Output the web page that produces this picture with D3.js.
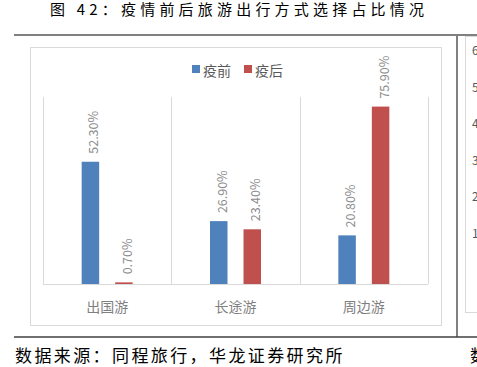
<!DOCTYPE html>
<meta charset="utf-8">
<script src="https://d3js.org/d3.v7.min.js"></script>
<style>
  body { margin: 0; background: #fff; }
  text { font-family: "Noto Sans CJK SC", "DejaVu Sans", sans-serif; }
</style>
<div id="chart"></div>
<script>

// data
var categories = ["出国游", "长途游", "周边游"];
var seriesNames = ["疫前", "疫后"];
var before = [52.3, 26.9, 20.8];
var after = [0.7, 23.4, 75.9];
var sideTicks = [1, 2, 3, 4, 5, 6];   // cut-off panel on the right

var colors = ["#4F81BD", "#C0504D"];

var svg = d3.select("#chart")
  .append("svg")
    .attr("width", 477)
    .attr("height", 367);

// title
svg.append("text")
  .attr("x", 50)
  .attr("y", 15)
  .attr("font-size", 15)
  .attr("letter-spacing", 4.2)
  .attr("fill", "#000")
  .text("图 42：疫情前后旅游出行方式选择占比情况");

// page rules
svg.append("line").attr("x1", 14).attr("x2", 477).attr("y1", 35).attr("y2", 35)
  .attr("stroke", "#808080").attr("stroke-width", 2);
svg.append("line").attr("x1", 457).attr("x2", 457).attr("y1", 35).attr("y2", 337)
  .attr("stroke", "#808080").attr("stroke-width", 2);
svg.append("line").attr("x1", 14).attr("x2", 477).attr("y1", 337).attr("y2", 337)
  .attr("stroke", "#404040").attr("stroke-width", 1.5);

// chart frame
svg.append("rect")
  .attr("x", 30.5).attr("y", 47.5).attr("width", 411).attr("height", 278)
  .attr("fill", "none").attr("stroke", "#d9d9d9");

// plot area
var pLeft = 43, pRight = 428, pTop = 97, pBottom = 284;

var x0 = d3.scaleBand()
  .domain(categories)
  .range([pLeft, pRight]);

var bw = x0.bandwidth();
var x1 = d3.scaleBand()
  .domain(seriesNames)
  .range([bw / 2 - 25.5, bw / 2 + 25.5])
  .paddingInner(0.478);

var y = d3.scaleLinear()
  .domain([0, 80])
  .range([pBottom, pTop]);

// vertical gridlines between categories
var edges = categories.map(function(c) { return x0(c); }).concat([pRight]);
svg.selectAll(".vgrid")
  .data(edges)
  .enter()
  .append("line")
    .attr("class", "vgrid")
    .attr("x1", function(d) { return Math.round(d) + 0.5; })
    .attr("x2", function(d) { return Math.round(d) + 0.5; })
    .attr("y1", pTop)
    .attr("y2", pBottom)
    .attr("stroke", "#d9d9d9");

// x axis line + labels
svg.append("line")
  .attr("x1", pLeft).attr("x2", pRight)
  .attr("y1", pBottom + 0.5).attr("y2", pBottom + 0.5)
  .attr("stroke", "#d9d9d9");

svg.selectAll(".cat")
  .data(categories)
  .enter()
  .append("text")
    .attr("class", "cat")
    .attr("x", function(d) { return x0(d) + bw / 2; })
    .attr("y", 312)
    .attr("text-anchor", "middle")
    .attr("font-size", 14)
    .attr("fill", "#7f7f7f")
    .text(function(d) { return d; });

// bars
var rows = [];
categories.forEach(function(c, i) {
  rows.push({cat: c, s: seriesNames[0], v: before[i], k: 0});
  rows.push({cat: c, s: seriesNames[1], v: after[i], k: 1});
});

svg.selectAll(".bar")
  .data(rows)
  .enter()
  .append("rect")
    .attr("class", "bar")
    .attr("x", function(d) { return x0(d.cat) + x1(d.s); })
    .attr("width", x1.bandwidth())
    .attr("y", function(d) { return y(d.v); })
    .attr("height", function(d) { return pBottom - y(d.v); })
    .attr("fill", function(d) { return colors[d.k]; });

// value labels, rotated
svg.selectAll(".lbl")
  .data(rows)
  .enter()
  .append("text")
    .attr("class", "lbl")
    .attr("transform", function(d) {
      var cx = x0(d.cat) + x1(d.s) + x1.bandwidth() / 2 + 8;
      return "translate(" + cx + "," + (y(d.v) - 8) + ") rotate(-90)";
    })
    .attr("font-family", "DejaVu Sans")
    .attr("font-size", 12.5)
    .attr("fill", "#8c8c8c")
    .text(function(d) { return d.v.toFixed(2) + "%"; });

// legend
var legend = svg.selectAll(".leg")
  .data(seriesNames)
  .enter()
  .append("g")
    .attr("class", "leg")
    .attr("transform", function(d, i) { return "translate(" + (192 + i * 52) + ",0)"; });
legend.append("rect")
  .attr("x", 0).attr("y", 65).attr("width", 8).attr("height", 8)
  .attr("fill", function(d, i) { return colors[i]; });
legend.append("text")
  .attr("x", 11).attr("y", 76)
  .attr("font-size", 14)
  .attr("fill", "#595959")
  .text(function(d) { return d; });

// neighbouring panel, cut off at the right edge
svg.append("rect")
  .attr("x", 465.5).attr("y", 36.5).attr("width", 40).attr("height", 276)
  .attr("fill", "none").attr("stroke", "#d9d9d9");

var ys = d3.scaleLinear().domain([1, 6]).range([233, 50]);
svg.selectAll(".stick")
  .data(sideTicks)
  .enter()
  .append("text")
    .attr("class", "stick")
    .attr("x", 472)
    .attr("y", function(d) { return ys(d) + 5; })
    .attr("font-family", "DejaVu Sans")
    .attr("font-size", 12)
    .attr("fill", "#595959")
    .text(function(d) { return d; });

// source line
svg.append("text")
  .attr("x", 15)
  .attr("y", 362)
  .attr("font-size", 17)
  .attr("letter-spacing", 2.4)
  .attr("fill", "#000")
  .text("数据来源：同程旅行，华龙证券研究所");
svg.append("text")
  .attr("x", 470)
  .attr("y", 362)
  .attr("font-size", 17)
  .attr("fill", "#000")
  .text("数");

</script>
